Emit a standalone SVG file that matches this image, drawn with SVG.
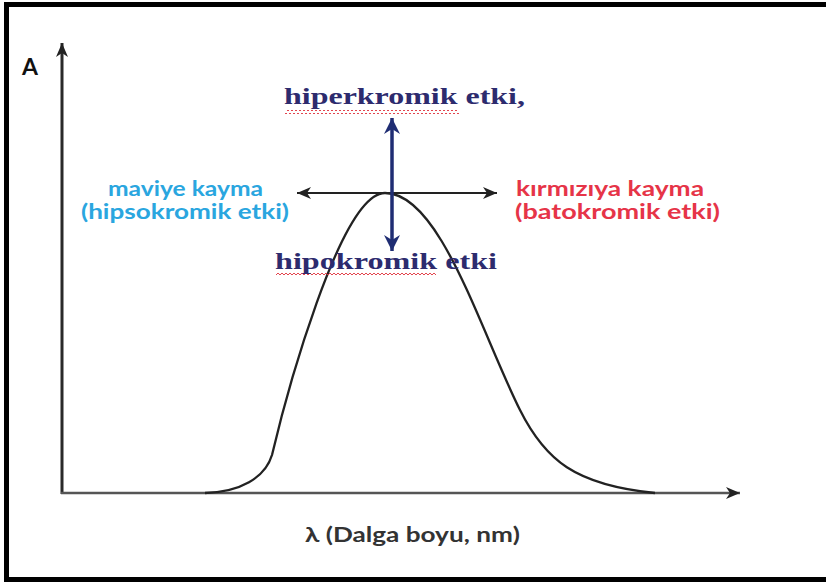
<svg xmlns="http://www.w3.org/2000/svg" width="826" height="583" viewBox="0 0 826 583">
<style>
.serif{font-family:"Liberation Serif","DejaVu Serif",serif;font-weight:bold;fill:#2d2b6e}
.sans{font-family:Lato,"Open Sans","Liberation Sans",sans-serif;font-weight:bold}
.blue{fill:#2aa6df}
.red{fill:#e63448}
</style>
<defs>
<marker id="ah" markerUnits="userSpaceOnUse" markerWidth="16" markerHeight="14" refX="14" refY="7" orient="auto-start-reverse">
<path d="M0,1 L14,7 L0,13 L4,7 Z" fill="#222"/>
</marker>
<marker id="ahb" markerUnits="userSpaceOnUse" markerWidth="20" markerHeight="18" refX="16" refY="9" orient="auto-start-reverse">
<path d="M0,1 L16,9 L0,17 L5,9 Z" fill="#1f2d73"/>
</marker>
<pattern id="wave" width="4" height="4" patternUnits="userSpaceOnUse">
<path d="M0,3 L2,1 L4,3" fill="none" stroke="#e0303a" stroke-width="0.9"/>
</pattern>
</defs>
<rect width="826" height="583" fill="#fff"/>
<path d="M830,4.5 H6.5 V579.5 H830" fill="none" stroke="#000" stroke-width="5"/>
<g id="axes">
<line x1="62" y1="494" x2="62" y2="43" stroke="#2a2a2a" stroke-width="3" marker-end="url(#ah)"/>
<line x1="61" y1="493" x2="740" y2="493" stroke="#555" stroke-width="2.5" marker-end="url(#ah)"/>
</g>
<g id="curve">
<path d="M205,493 C240,492 265,478 272,455 C285,400 340,193 385,193 C440,193 480,330 520,410 C545,460 575,485 655,493" fill="none" stroke="#222" stroke-width="2.3"/>
</g>
<g id="connectors">
<line x1="297" y1="193" x2="497" y2="193" stroke="#222" stroke-width="2" marker-start="url(#ah)" marker-end="url(#ah)"/>
<line x1="392" y1="118" x2="392" y2="251" stroke="#1f2d73" stroke-width="3.5" marker-start="url(#ahb)" marker-end="url(#ahb)"/>
</g>
<g id="label-A"><text x="22" y="75" class="sans" font-size="23" fill="#111">A</text></g>
<g id="hiper">
<rect x="285" y="110" width="174" height="4" fill="url(#wave)"/>
<text x="284" y="104" class="serif" font-size="24" textLength="241" lengthAdjust="spacingAndGlyphs">hiperkromik etki,</text>
</g>
<g id="hipo">
<rect x="276" y="273" width="160" height="4" fill="url(#wave)"/>
<text x="275" y="269" class="serif" font-size="24" textLength="222" lengthAdjust="spacingAndGlyphs">hipokromik etki</text>
</g>
<g id="maviye">
<text x="108" y="196" class="sans blue" font-size="21" textLength="155" lengthAdjust="spacingAndGlyphs">maviye kayma</text>
<text x="81" y="219" class="sans blue" font-size="21" textLength="208" lengthAdjust="spacingAndGlyphs">(hipsokromik etki)</text>
</g>
<g id="kirmizi">
<text x="516" y="196" class="sans red" font-size="21" textLength="188" lengthAdjust="spacingAndGlyphs">kırmızıya kayma</text>
<text x="515" y="219" class="sans red" font-size="21" textLength="205" lengthAdjust="spacingAndGlyphs">(batokromik etki)</text>
</g>
<g id="xlabel"><text x="305" y="542" class="sans" font-size="20" fill="#333" textLength="215" lengthAdjust="spacingAndGlyphs">λ (Dalga boyu, nm)</text></g>
</svg>
